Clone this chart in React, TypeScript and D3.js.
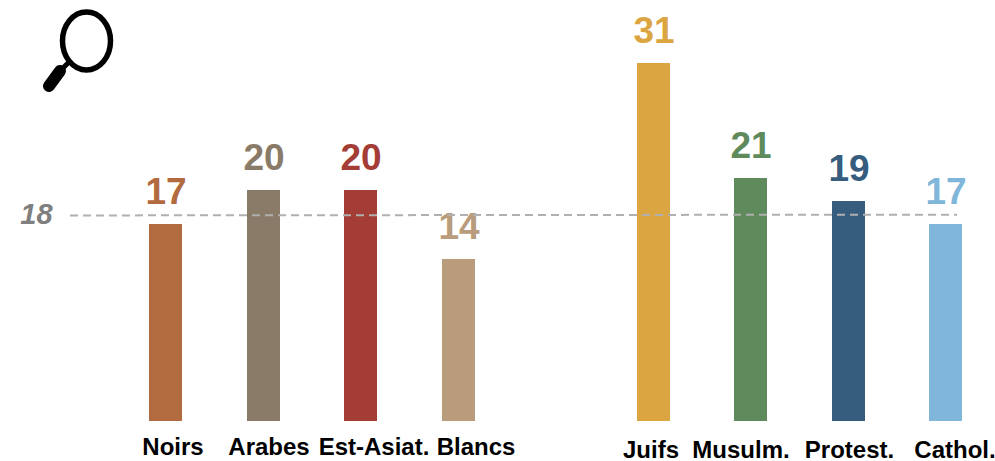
import React from "react";
import * as d3 from "d3";

const categories = ["Noirs", "Arabes", "Est-Asiat.", "Blancs", "Juifs", "Musulm.", "Protest.", "Cathol."];
const slots = [0, 1, 2, 3, 5, 6, 7, 8];
const values = [17, 20, 20, 14, 31, 21, 19, 17];
const colors = ["#b26b3e", "#8a7a68", "#a33d35", "#b89c7c", "#dba541", "#5e8a5c", "#365c7e", "#80b6d9"];
const referenceLabel = "18";
const referenceLevels = [17.8, 17.87];
const labelRows = [455, 455, 455, 455, 458, 458, 458, 458];
const labelCentres = [173, 269, 374, 476, 651, 741, 849.5, 955];

const FONT = '"Liberation Sans", Arial, sans-serif';

export default function App() {
  const xs = d3.scaleLinear().domain([0, 8]).range([149, 929]);
  const x = (s: number) => Math.round(xs(s));
  const ys = d3.scaleLinear().domain([0, 31]).range([421, 63]);
  const y = (v: number) => Math.floor(ys(v));
  const barW = 33;
  const refLine = d3.line<number>()
    .x((_, i) => (i === 0 ? 70 : 957))
    .y((d) => ys(d));
  return (
    <svg width={995} height={461} style={{ position: "absolute", left: 0, top: 0, background: "#fff" }} fontFamily={FONT}>
      <g>
        <ellipse cx={86.5} cy={41} rx={24} ry={29} fill="none" stroke="#000" strokeWidth={5.5} />
        <line x1={69} y1={62} x2={60} y2={71} stroke="#000" strokeWidth={5} />
        <line x1={60} y1={71} x2={49} y2={86} stroke="#000" strokeWidth={12} strokeLinecap="round" />
      </g>
      {values.map((v, i) => (
        <g key={categories[i]}>
          <rect x={x(slots[i])} y={y(v)} width={barW} height={y(0) - y(v)} fill={colors[i]} />
          <text x={x(slots[i]) + barW / 2 + 0.5} y={y(v) - 20} textAnchor="middle" fontSize={37} fontWeight="bold" fill={colors[i]}>{v}</text>
          <text x={labelCentres[i]} y={labelRows[i]} textAnchor="middle" fontSize={24} fontWeight="bold" fill="#000">{categories[i]}</text>
        </g>
      ))}
      <path d={refLine(referenceLevels) ?? ""} fill="none" stroke="#b0b0b0" strokeWidth={2} strokeDasharray="8 5" />
      <text x={36.5} y={224} textAnchor="middle" fontSize={29} fontWeight="bold" fontStyle="italic" fill="#7f7f7f">{referenceLabel}</text>
    </svg>
  );
}
